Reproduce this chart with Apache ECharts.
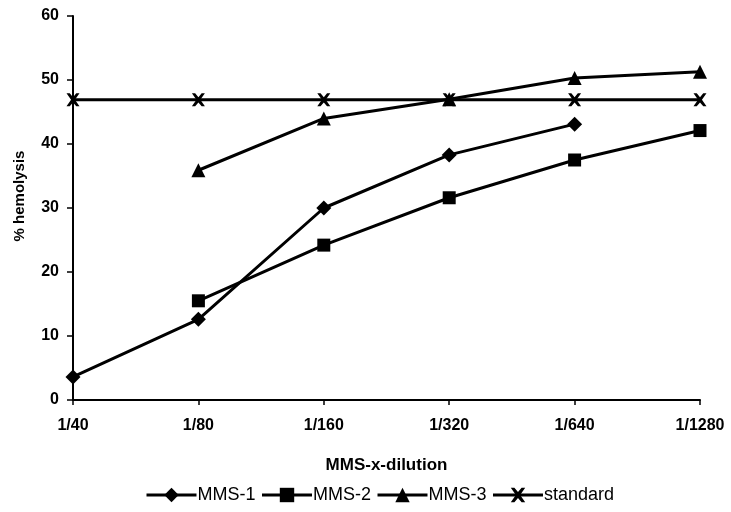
<!DOCTYPE html>
<html>
<head>
<meta charset="utf-8">
<script src="https://cdn.jsdelivr.net/npm/echarts@6/dist/echarts.min.js"></script>
<style>
  html, body { margin: 0; padding: 0; background: #fff; }
  #chart { width: 731px; height: 512px; }
</style>
</head>
<body>
<div id="chart"></div>
<script>
// dilution steps on the x axis
var dilutions = ['1/40', '1/80', '1/160', '1/320', '1/640', '1/1280'];

// % hemolysis per preparation (null = not measured)
var mms1 = [3.6, 12.6, 30.0, 38.3, 43.1, null];
var mms2 = [null, 15.5, 24.2, 31.6, 37.5, 42.1];
var mms3 = [null, 35.9, 44.0, 47.0, 50.3, 51.3];
var standard = [46.9, 46.9, 46.9, 46.9, 46.9, 46.9];

var crossPath = 'path://M0,0 L2.5,0 L5,3 L7.5,0 L10,0 L6.5,5 L10,10 L7.5,10 L5,7 L2.5,10 L0,10 L3.5,5 Z';

var font = 'Liberation Sans, Arial, sans-serif';

function makeSeries(name, data, symbol, size) {
  return {
    name: name,
    type: 'line',
    data: data,
    symbol: symbol,
    symbolSize: size,
    showAllSymbol: true,
    connectNulls: false,
    lineStyle: { color: '#000', width: 3 },
    itemStyle: { color: '#000', borderWidth: 0 },
    emphasis: { disabled: true }
  };
}

var myChart = echarts.init(document.getElementById('chart'));

myChart.setOption({
  animation: false,
  grid: { left: 73, right: 31, top: 16, bottom: 112 },
  legend: {
    bottom: 3,
    left: 140,
    itemWidth: 50,
    itemHeight: 18,
    itemGap: 5,
    lineStyle: { width: 3 },
    textStyle: { fontFamily: font, fontSize: 18, color: '#000', padding: [0, 0, 0, -4] },
    data: ['MMS-1', 'MMS-2', 'MMS-3', 'standard']
  },
  xAxis: {
    type: 'category',
    data: dilutions,
    boundaryGap: false,
    name: 'MMS-x-dilution',
    nameLocation: 'middle',
    nameGap: 57,
    nameTextStyle: { fontFamily: font, fontSize: 17, fontWeight: 'bold', color: '#000' },
    axisLine: { lineStyle: { color: '#000', width: 2 } },
    axisTick: { show: true, length: 5, lineStyle: { color: '#000', width: 1.5 } },
    axisLabel: { fontFamily: font, fontSize: 16, fontWeight: 'bold', color: '#000', margin: 18 }
  },
  yAxis: {
    type: 'value',
    min: 0,
    max: 60,
    interval: 10,
    name: '% hemolysis',
    nameLocation: 'middle',
    nameGap: 46,
    nameTextStyle: { fontFamily: font, fontSize: 15, fontWeight: 'bold', color: '#000', padding: [0, 0, 0, 24] },
    axisLine: { show: true, lineStyle: { color: '#000', width: 2 } },
    axisTick: { show: true, length: 6, lineStyle: { color: '#000', width: 1.5 } },
    splitLine: { show: false },
    axisLabel: { fontFamily: font, fontSize: 16, fontWeight: 'bold', color: '#000', margin: 14 }
  },
  series: [
    makeSeries('MMS-1', mms1, 'diamond', 15),
    makeSeries('MMS-2', mms2, 'rect', 13),
    makeSeries('MMS-3', mms3, 'triangle', 14),
    makeSeries('standard', standard, crossPath, 13)
  ]
});
</script>
</body>
</html>
